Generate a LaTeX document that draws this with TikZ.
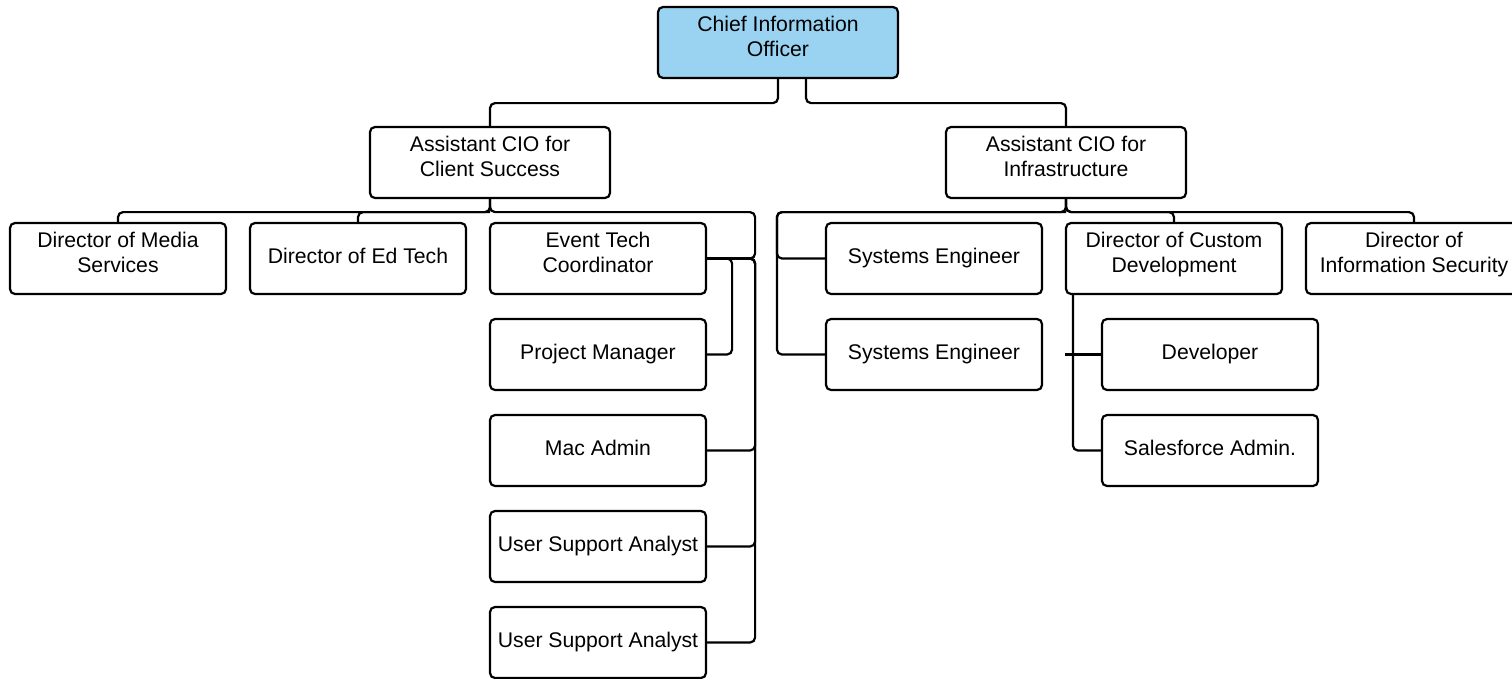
\documentclass[tikz,border=0pt]{standalone}
\usepackage{fontspec}
\setmainfont{Liberation Sans}
\usetikzlibrary{positioning}
\definecolor{cioblue}{RGB}{154,211,242}
\tikzset{
  box/.style={draw=black, line width=2.2pt, rounded corners=5pt, fill=white,
    minimum width=216pt, minimum height=71pt, align=center, inner sep=2pt,
    font=\fontsize{21.2}{25}\selectfont, text height=15pt, text depth=6pt},
  twoline/.style={text height=32pt, text depth=5pt},
  widebox/.style={box, minimum width=240pt},
  conn/.style={draw=black, line width=2.2pt, rounded corners=5pt},
}
\begin{document}
\begin{tikzpicture}[x=1pt, y=-1pt]
\useasboundingbox (0,0) rectangle (1512,678);
% nodes
\node[widebox, twoline, fill=cioblue] (cio) at (778,42.5) {Chief Information\\Officer};
\node[widebox, twoline] (cs) at (490,162.5) {Assistant CIO for\\Client Success};
\node[widebox, twoline] (inf) at (1066,162.5) {Assistant CIO for\\Infrastructure};
\node[box, twoline] (media) at (118,258.5) {Director of Media\\Services};
\node[box] (edtech) at (358,258.5) {Director of Ed Tech};
\node[box, twoline] (event) at (598,258.5) {Event Tech\\Coordinator};
\node[box] (pm) at (598,354.5) {Project Manager};
\node[box] (mac) at (598,450.5) {Mac Admin};
\node[box] (usa1) at (598,546.5) {User Support Analyst};
\node[box] (usa2) at (598,642.5) {User Support Analyst};
\node[box] (se1) at (934,258.5) {Systems Engineer};
\node[box] (se2) at (934,354.5) {Systems Engineer};
\node[box, twoline] (cd) at (1174,258.5) {Director of Custom\\Development};
\node[box, twoline] (is) at (1414,258.5) {Director of\\Information Security};
\node[box] (dev) at (1210,354.5) {Developer};
\node[box] (sf) at (1210,450.5) {Salesforce Admin.};
% coordinates
\coordinate (cssplit) at ([yshift=-24pt]cio.south);
\coordinate (csbus) at ([yshift=-13pt]cs.south);
\coordinate (evr) at ([xshift=48pt]event.east);
\coordinate (pmr) at ([xshift=25pt]event.east);
\coordinate (infbus) at ([yshift=-13pt]inf.south);
\coordinate (sel) at ([xshift=-48pt]se1.west);
\coordinate (cdl) at ([xshift=8pt]cd.south west);
\coordinate (devl) at ([xshift=-36pt]dev.west);
% connectors
\draw[conn] (cio.south) -- (cssplit) -| (cs.north);
\draw[conn] ([xshift=28pt]cio.south) -- ([xshift=28pt]cssplit) -| (inf.north);
\draw[conn] (cs.south) -- (csbus) -| (media.north);
\draw[conn] (csbus) -| (edtech.north);
\draw[conn] (cs.south) -- (csbus) -| (evr) -- (event.east);
\draw[conn] (event.east) -- (pmr) |- (pm.east);
\draw[conn] (event.east) -- (evr) |- (mac.east);
\draw[conn] (event.east) -- (evr) |- (usa1.east);
\draw[conn] (event.east) -- (evr) |- (usa2.east);
\draw[conn] (inf.south) -- (infbus) -| (sel) -- (se1.west);
\draw[conn] (infbus) -| (sel) |- (se2.west);
\draw[conn] (inf.south) -- (infbus) -| (cd.north);
\draw[conn] (inf.south) -- (infbus) -| (is.north);
\draw[conn] (cdl) |- (sf.west);
\draw[conn] (devl) -- (dev.west);
\end{tikzpicture}
\end{document}
